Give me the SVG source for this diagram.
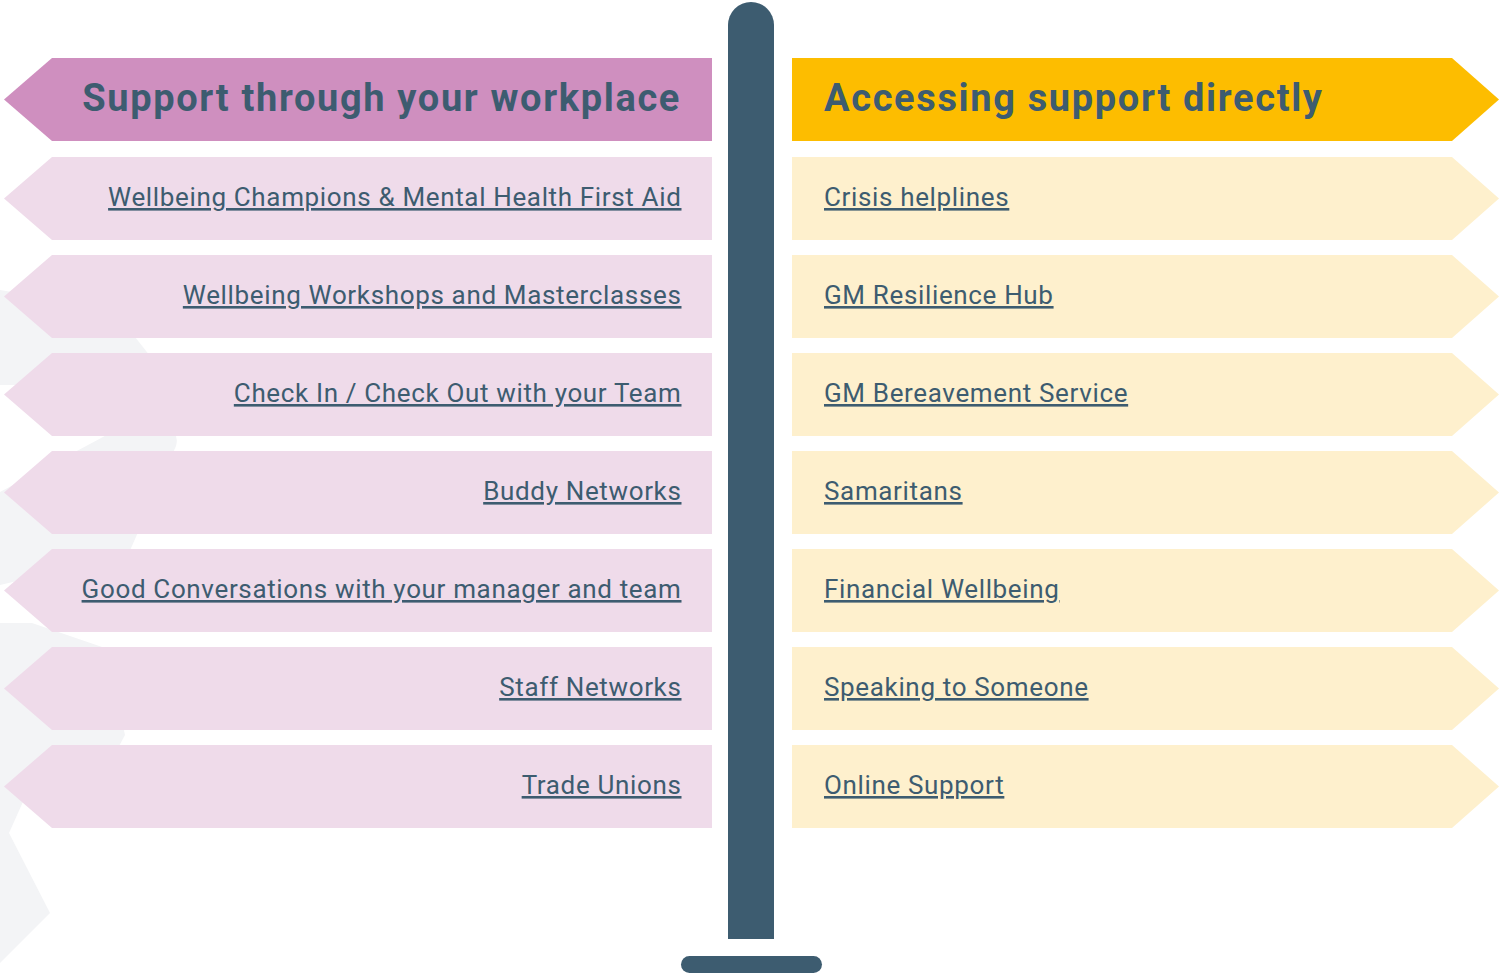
<svg xmlns="http://www.w3.org/2000/svg" width="1499" height="975" viewBox="0 0 1499 975">
  <style>
    .bg { fill: #f3f4f6; }
    .hdr-l { fill: #cf8fbf; }
    .hdr-r { fill: #fdbd00; }
    .row-l { fill: #efdbea; }
    .row-r { fill: #fef0cd; }
    .post { fill: #3d5c70; }
    .title { font-family: Roboto, "Liberation Sans", sans-serif; font-weight: 700; font-size: 38px; letter-spacing: 1.65px; fill: #3d5c70; }
    .link { font-family: Roboto, "Liberation Sans", sans-serif; font-size: 26px; letter-spacing: 0.65px; fill: #3d5c70; text-decoration: underline; }
    .end { text-anchor: end; }
  </style>
  <defs>
    <!-- sign boards: left-pointing and right-pointing, 83px tall, anchored at their top edge -->
    <polygon id="signL" points="4,41.5 52,0 712,0 712,83 52,83"/>
    <polygon id="signR" points="792,0 1452,0 1499,41.5 1452,83 792,83"/>
  </defs>

  <rect width="1499" height="975" fill="#ffffff"/>

  <!-- faint decorative backdrop on the left edge -->
  <g id="backdrop">
    <polygon class="bg" points="0,290 60,300 135,337 150,356 40,385 0,385"/>
    <path class="bg" d="M103,437 L112,432 Q120,425 165,428 Q180,432 176,446 L128,555 L0,585 L0,492 Z"/>
    <polygon class="bg" points="0,623 32,623 105,648 125,735 118,748 35,775 9,833 50,913 0,963"/>
  </g>

  <!-- signpost pole and base -->
  <g id="post">
    <path class="post" d="M728,939 V25 A23,23 0 0 1 774,25 V939 Z"/>
    <rect class="post" x="681" y="956" width="141" height="17" rx="8.5"/>
  </g>

  <g id="connectors"></g>

  <!-- left column: support through the workplace -->
  <g id="header-left">
    <use href="#signL" class="hdr-l" y="58"/>
    <text class="title end" x="681" y="111">Support through your workplace</text>
  </g>
  <g id="left-1">
    <use href="#signL" class="row-l" y="157"/>
    <text class="link end" x="681.5" y="206">Wellbeing Champions &amp; Mental Health First Aid</text>
  </g>
  <g id="left-2">
    <use href="#signL" class="row-l" y="255"/>
    <text class="link end" x="681.5" y="304">Wellbeing Workshops and Masterclasses</text>
  </g>
  <g id="left-3">
    <use href="#signL" class="row-l" y="353"/>
    <text class="link end" x="681.5" y="402">Check In / Check Out with your Team</text>
  </g>
  <g id="left-4">
    <use href="#signL" class="row-l" y="451"/>
    <text class="link end" x="681.5" y="500">Buddy Networks</text>
  </g>
  <g id="left-5">
    <use href="#signL" class="row-l" y="549"/>
    <text class="link end" x="681.5" y="598">Good Conversations with your manager and team</text>
  </g>
  <g id="left-6">
    <use href="#signL" class="row-l" y="647"/>
    <text class="link end" x="681.5" y="696">Staff Networks</text>
  </g>
  <g id="left-7">
    <use href="#signL" class="row-l" y="745"/>
    <text class="link end" x="681.5" y="794">Trade Unions</text>
  </g>

  <!-- right column: accessing support directly -->
  <g id="header-right">
    <use href="#signR" class="hdr-r" y="58"/>
    <text class="title" x="824" y="111">Accessing support directly</text>
  </g>
  <g id="right-1">
    <use href="#signR" class="row-r" y="157"/>
    <text class="link" x="824" y="206">Crisis helplines</text>
  </g>
  <g id="right-2">
    <use href="#signR" class="row-r" y="255"/>
    <text class="link" x="824" y="304">GM Resilience Hub</text>
  </g>
  <g id="right-3">
    <use href="#signR" class="row-r" y="353"/>
    <text class="link" x="824" y="402">GM Bereavement Service</text>
  </g>
  <g id="right-4">
    <use href="#signR" class="row-r" y="451"/>
    <text class="link" x="824" y="500">Samaritans</text>
  </g>
  <g id="right-5">
    <use href="#signR" class="row-r" y="549"/>
    <text class="link" x="824" y="598">Financial Wellbeing</text>
  </g>
  <g id="right-6">
    <use href="#signR" class="row-r" y="647"/>
    <text class="link" x="824" y="696">Speaking to Someone</text>
  </g>
  <g id="right-7">
    <use href="#signR" class="row-r" y="745"/>
    <text class="link" x="824" y="794">Online Support</text>
  </g>
</svg>
